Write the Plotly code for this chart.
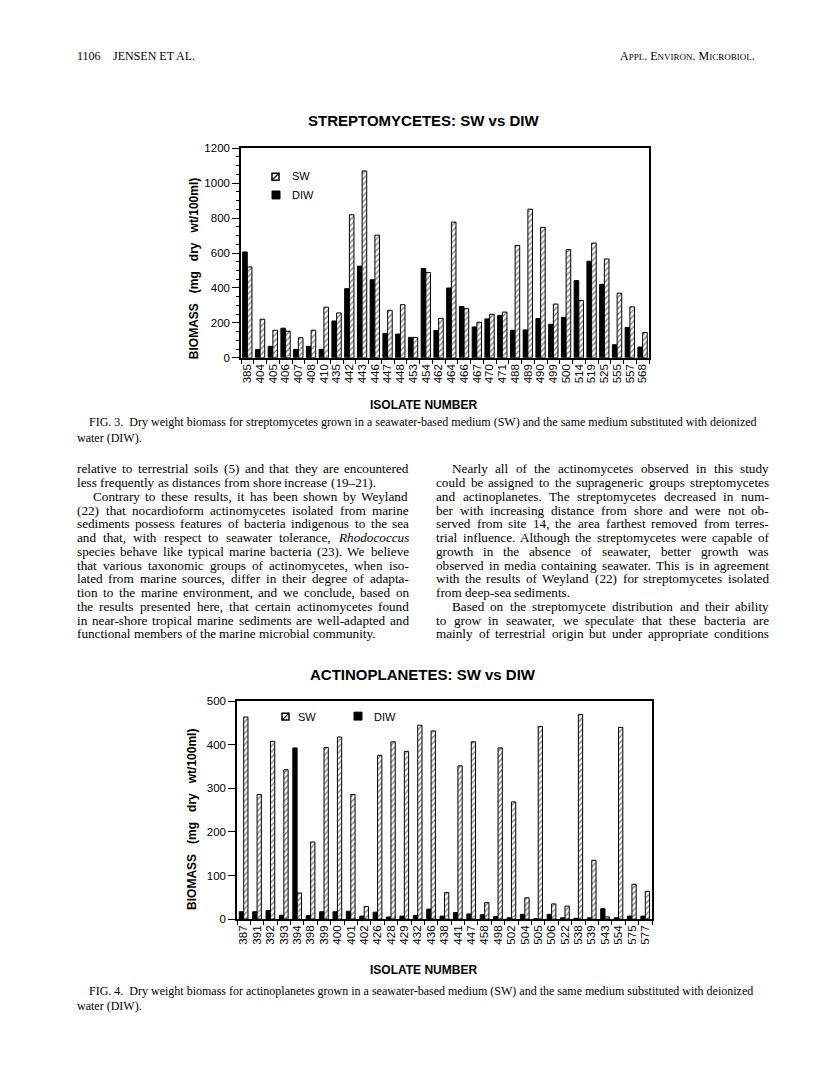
import plotly.graph_objects as go

# ---------------- data ----------------
strep_isolates = ["385", "404", "405", "406", "407", "408", "410", "435", "442", "443",
                  "446", "447", "448", "453", "454", "462", "464", "466", "467", "470",
                  "471", "488", "489", "490", "499", "500", "514", "519", "525", "555",
                  "557", "568"]
strep_sw = [520, 221, 158, 153, 115, 158, 290, 257, 819, 1070,
            702, 272, 304, 117, 489, 226, 777, 281, 204, 249,
            262, 643, 851, 747, 308, 619, 328, 657, 566, 370,
            292, 145]
strep_diw = [606, 47, 66, 170, 49, 66, 49, 211, 396, 525,
             447, 140, 136, 117, 511, 157, 400, 294, 177, 223,
             243, 158, 160, 225, 192, 232, 442, 553, 421, 75,
             174, 62]

actino_isolates = ["387", "391", "392", "393", "394", "398", "399", "400", "401", "402",
                   "426", "428", "429", "432", "436", "438", "441", "447", "458", "498",
                   "502", "504", "505", "506", "522", "538", "539", "543", "554", "575",
                   "577"]
actino_sw = [464, 286, 408, 343, 60, 177, 394, 418, 286, 29,
             376, 407, 385, 445, 432, 61, 352, 407, 38, 393,
             269, 49, 442, 35, 30, 470, 135, 5, 440, 80,
             64]
actino_diw = [17, 17, 20, 9, 393, 8, 17, 17, 18, 7,
              16, 5, 7, 8, 23, 7, 15, 12, 10, 6,
              3, 11, 1, 11, 3, 2, 3, 24, 3, 7,
              7]

strep_ticks = [0, 200, 400, 600, 800, 1000, 1200]
actino_ticks = [0, 100, 200, 300, 400, 500]

W, H = 816, 1081


def px(x):
    return x / W


def py(y):
    return 1 - y / H


SANS = "Liberation Sans"
SERIF = "Liberation Serif"

fig = go.Figure()

sw_marker = dict(color="white",
                 line=dict(color="black", width=1),
                 pattern=dict(shape="/", fgcolor="black", bgcolor="white",
                              size=4, solidity=0.35))
diw_marker = dict(color="black", line=dict(color="black", width=1))

# top chart
fig.add_trace(go.Bar(x=strep_isolates, y=strep_diw, name="DIW", marker=diw_marker,
                     width=0.36, offset=-0.37, xaxis="x", yaxis="y", showlegend=False))
fig.add_trace(go.Bar(x=strep_isolates, y=strep_sw, name="SW", marker=sw_marker,
                     width=0.36, offset=0.0, xaxis="x", yaxis="y", showlegend=False))
# bottom chart
fig.add_trace(go.Bar(x=actino_isolates, y=actino_diw, name="DIW", marker=diw_marker,
                     width=0.32, offset=-0.33, xaxis="x2", yaxis="y2", showlegend=False))
fig.add_trace(go.Bar(x=actino_isolates, y=actino_sw, name="SW", marker=sw_marker,
                     width=0.32, offset=0.0, xaxis="x2", yaxis="y2", showlegend=False))

axis_common = dict(showline=True, linecolor="black", linewidth=1.5, mirror=True,
                   showgrid=False, zeroline=False, ticks="outside", tickcolor="black",
                   tickfont=dict(family=SANS, size=11.5, color="black"))

fig.update_layout(
    width=W, height=H,
    margin=dict(l=0, r=0, t=0, b=0),
    paper_bgcolor="white", plot_bgcolor="white",
    barmode="overlay",
    xaxis=dict(domain=[px(233), px(641)], anchor="y", type="category",
               categoryorder="array", categoryarray=strep_isolates,
               tickmode="array", tickvals=strep_isolates, ticktext=strep_isolates,
               range=[-0.5, len(strep_isolates) - 0.5],
               tickangle=-90, tickson="boundaries", ticklen=4, **axis_common),
    yaxis=dict(domain=[py(347.7), py(135.7)], anchor="x", range=[0, 1200],
               tickmode="array", tickvals=strep_ticks, ticklen=7,
               minor=dict(dtick=50, ticks="outside", ticklen=3, tickcolor="black"),
               **axis_common),
    xaxis2=dict(domain=[px(229), px(644)], anchor="y2", type="category",
                categoryorder="array", categoryarray=actino_isolates,
                tickmode="array", tickvals=actino_isolates, ticktext=actino_isolates,
                range=[-0.5, len(actino_isolates) - 0.5],
                tickangle=-90, tickson="boundaries", ticklen=4, **axis_common),
    yaxis2=dict(domain=[py(915.3), py(695)], anchor="x2", range=[0, 500],
                tickmode="array", tickvals=actino_ticks, ticklen=7, **axis_common),
)

ann = []


def text(x, y, s, size=12, family=SERIF, xanchor="left", bold=False, angle=0, yanchor="middle"):
    if bold:
        s = "<b>" + s + "</b>"
    ann.append(dict(x=px(x), y=py(y), xref="paper", yref="paper", text=s,
                    showarrow=False, xanchor=xanchor, yanchor=yanchor,
                    textangle=angle, borderpad=0,
                    font=dict(family=family, size=size, color="black")))


# Times (Liberation Serif) advance widths per 1000 em, used to justify body lines
TW = {' ': 250, 'a': 444, 'b': 500, 'c': 444, 'd': 500, 'e': 444, 'f': 333, 'g': 500,
      'h': 500, 'i': 278, 'j': 278, 'k': 500, 'l': 278, 'm': 778, 'n': 500, 'o': 500,
      'p': 500, 'q': 500, 'r': 333, 's': 389, 't': 278, 'u': 500, 'v': 500, 'w': 722,
      'x': 500, 'y': 500, 'z': 444,
      'A': 722, 'B': 667, 'C': 667, 'D': 722, 'E': 611, 'F': 556, 'G': 722, 'H': 722,
      'I': 333, 'J': 389, 'K': 722, 'L': 611, 'M': 889, 'N': 722, 'O': 722, 'P': 556,
      'Q': 722, 'R': 667, 'S': 556, 'T': 611, 'U': 722, 'V': 722, 'W': 944, 'X': 722,
      'Y': 722, 'Z': 611, ',': 250, '.': 250, '(': 333, ')': 333, '-': 333, '–': 500,
      ';': 278, ':': 278, "'": 180}


def word_w(w, size):
    plain = w.replace("<i>", "").replace("</i>", "")
    return sum(TW.get(c, 500) for c in plain) * size / 1000.0


def body_line(x0, x1, y, line, size, justify=True, indent=0):
    words = line.split(" ")
    widths = [word_w(w, size) for w in words]
    avail = (x1 - x0 - indent)
    if justify and len(words) > 1:
        gap = (avail - sum(widths)) / (len(words) - 1)
    else:
        gap = 250 * size / 1000.0
    x = x0 + indent
    for w, wd in zip(words, widths):
        text(x, y, w, size=size)
        x += wd + gap


NB = "\u00a0"
# header
text(68, 42, "1106", size=12)
text(104, 42, "JENSEN ET AL.", size=12)
sc = lambda big, small: big + "<span style='font-size:9px'>" + small + "</span>"
text(748, 42, sc("A", "PPL") + ". " + sc("E", "NVIRON") + ". " + sc("M", "ICROBIOL") + ".",
     size=12, xanchor="right")

# top chart titles
text(415, 108, "STREPTOMYCETES: SW vs DIW", size=15, family=SANS, xanchor="center", bold=True)
text(186, 258, "BIOMASS" + NB * 3 + "(mg" + NB * 3 + "dry" + NB * 3 + "wt/100ml)",
     size=12, family=SANS, xanchor="center", bold=True, angle=-90)
text(415, 395, "ISOLATE NUMBER", size=12, family=SANS, xanchor="center", bold=True)
text(283, 164, "SW", size=11, family=SANS)
text(283, 183, "DIW", size=11, family=SANS)

# caption fig 3
text(80, 413, "FIG. 3." + NB * 2 + "Dry weight biomass for streptomycetes grown in a seawater-based medium (SW) and the same medium substituted with deionized", size=12)
text(68, 429, "water (DIW).", size=12)

# (text, justified, indented)
left_col = [
    ("relative to terrestrial soils (5) and that they are encountered", True, False),
    ("less frequently as distances from shore increase (19–21).", False, False),
    ("Contrary to these results, it has been shown by Weyland", True, True),
    ("(22) that nocardioform actinomycetes isolated from marine", True, False),
    ("sediments possess features of bacteria indigenous to the sea", True, False),
    ("and that, with respect to seawater tolerance, <i>Rhodococcus</i>", True, False),
    ("species behave like typical marine bacteria (23). We believe", True, False),
    ("that various taxonomic groups of actinomycetes, when iso-", True, False),
    ("lated from marine sources, differ in their degree of adapta-", True, False),
    ("tion to the marine environment, and we conclude, based on", True, False),
    ("the results presented here, that certain actinomycetes found", True, False),
    ("in near-shore tropical marine sediments are well-adapted and", True, False),
    ("functional members of the marine microbial community.", False, False),
]
right_col = [
    ("Nearly all of the actinomycetes observed in this study", True, True),
    ("could be assigned to the suprageneric groups streptomycetes", True, False),
    ("and actinoplanetes. The streptomycetes decreased in num-", True, False),
    ("ber with increasing distance from shore and were not ob-", True, False),
    ("served from site 14, the area farthest removed from terres-", True, False),
    ("trial influence. Although the streptomycetes were capable of", True, False),
    ("growth in the absence of seawater, better growth was", True, False),
    ("observed in media containing seawater. This is in agreement", True, False),
    ("with the results of Weyland (22) for streptomycetes isolated", True, False),
    ("from deep-sea sediments.", False, False),
    ("Based on the streptomycete distribution and their ability", True, True),
    ("to grow in seawater, we speculate that these bacteria are", True, False),
    ("mainly of terrestrial origin but under appropriate conditions", True, False),
]
BODY = 13.2
for i, (line, just, ind) in enumerate(left_col):
    body_line(68, 400, 460 + i * 13.9, line, BODY, justify=just, indent=16 if ind else 0)
for i, (line, just, ind) in enumerate(right_col):
    body_line(427, 760, 460 + i * 13.9, line, BODY, justify=just, indent=16 if ind else 0)

# bottom chart titles
text(415, 668, "ACTINOPLANETES: SW vs DIW", size=15, family=SANS, xanchor="center", bold=True)
text(184, 815, "BIOMASS" + NB * 3 + "(mg" + NB * 3 + "dry" + NB * 3 + "wt/100ml)",
     size=12, family=SANS, xanchor="center", bold=True, angle=-90)
text(415, 967, "ISOLATE NUMBER", size=12, family=SANS, xanchor="center", bold=True)
text(289, 711, "SW", size=11, family=SANS)
text(365, 711, "DIW", size=11, family=SANS)

text(80, 988, "FIG. 4." + NB * 2 + "Dry weight biomass for actinoplanetes grown in a seawater-based medium (SW) and the same medium substituted with deionized", size=12)
text(68, 1003, "water (DIW).", size=12)

fig.update_layout(annotations=ann)

# legend glyphs (drawn boxes)
shapes = []


def sw_box(x0, y0, s=7):
    shapes.append(dict(type="rect", xref="paper", yref="paper",
                       x0=px(x0), x1=px(x0 + s), y0=py(y0 + s), y1=py(y0),
                       line=dict(color="black", width=1.5), fillcolor="white"))
    shapes.append(dict(type="line", xref="paper", yref="paper",
                       x0=px(x0), x1=px(x0 + s), y0=py(y0 + s), y1=py(y0),
                       line=dict(color="black", width=1.2)))


def diw_box(x0, y0, s=8):
    shapes.append(dict(type="rect", xref="paper", yref="paper",
                       x0=px(x0), x1=px(x0 + s), y0=py(y0 + s), y1=py(y0),
                       line=dict(color="black", width=1), fillcolor="black"))


sw_box(264, 161)
diw_box(264, 179)
sw_box(274, 707)
diw_box(346, 706)
fig.update_layout(shapes=shapes)

fig.write_html("out.html")
